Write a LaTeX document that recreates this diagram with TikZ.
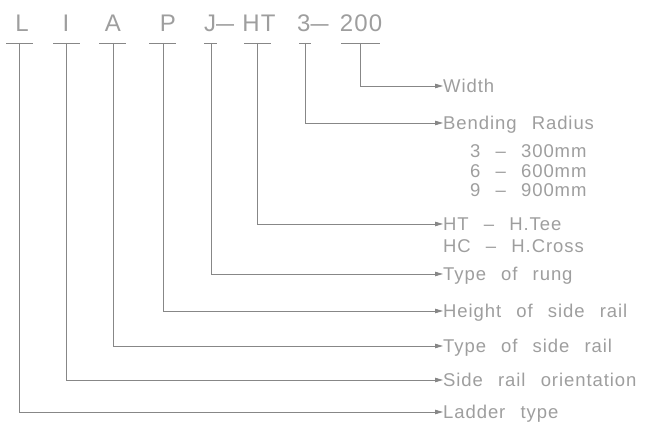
\documentclass[tikz,border=0pt]{standalone}
\usepackage{fontspec}
\usetikzlibrary{arrows.meta,positioning}
\newfontfamily\cadfont[LetterSpace=5,WordSpace=2.5]{Liberation Sans}
\definecolor{CadText}{RGB}{158,158,158}
\definecolor{CadLine}{RGB}{135,135,135}
\newcommand{\longdash}{\scalebox{1.35}[1]{–}}

\begin{document}
\begin{tikzpicture}[
  x=1pt, y=-1pt,
  code/.style={
    inner sep=0pt, anchor=base, text=CadText, font=\cadfont\fontsize{24}{24}\selectfont
  },
  desc/.style={
    inner sep=0pt, anchor=west, text=CadText, text height=13.2pt, text depth=0pt,
    font=\cadfont\fontsize{18.5}{18.5}\selectfont
  },
  bar/.style={draw=CadLine, line width=0.8pt},
  lead/.style={draw=CadLine, line width=0.8pt, -{Triangle[length=8pt,width=4.5pt]}}
]
\useasboundingbox (0,0) rectangle (649,427);

% --- code letters (top row)
\node[code] (cL)   at (22,32)  {L};
\node[code] (cI)   at (66,32)  {I};
\node[code] (cA)   at (113,32) {A};
\node[code] (cP)   at (168,32) {P};
\node[code, anchor=base west] (cJ)  at (204,32) {J\longdash};
\node[code] (cHT)  at (259,32) {HT};
\node[code, anchor=base west] (cR)  at (297,32) {3\longdash};
\node[code] (cW)   at (361,32) {200};

% --- bars under the codes
\coordinate (kL)  at (19,43);
\coordinate (kI)  at (66,43);
\coordinate (kA)  at (113,43);
\coordinate (kP)  at (163,43);
\coordinate (kJ)  at (211,43);
\coordinate (kHT) at (257,43);
\coordinate (kR)  at (305,43);
\coordinate (kW)  at (360,43);
\draw[bar] (6,43)   -- (33,43);
\draw[bar] (53,43)  -- (80,43);
\draw[bar] (99,43)  -- (126,43);
\draw[bar] (149,43) -- (176,43);
\draw[bar] (204,43) -- (217,43);
\draw[bar] (244,43) -- (271,43);
\draw[bar] (299,43) -- (311,43);
\draw[bar] (341,43) -- (380,43);

% --- descriptions (right column)
\node[desc] (dW)   at (443,86)  {Width};
\node[desc] (dR)   at (443,123) {Bending Radius};
\node[desc] (dR3)  at (470,151) {3 – 300mm};
\node[desc] (dR6)  at (470,171) {6 – 600mm};
\node[desc] (dR9)  at (470,190) {9 – 900mm};
\node[desc] (dHT)  at (443,224) {HT – H.Tee};
\node[desc] (dHC)  at (443,246) {HC – H.Cross};
\node[desc] (dJ)   at (443,274) {Type of rung};
\node[desc] (dP)   at (443,311) {Height of side rail};
\node[desc] (dA)   at (443,346) {Type of side rail};
\node[desc] (dI)   at (443,380) {Side rail orientation};
\node[desc] (dL)   at (443,412) {Ladder type};

% --- leaders: code -> description
\draw[lead] (kW)  |- (dW.west);
\draw[lead] (kR)  |- (dR.west);
\draw[lead] (kHT) |- (dHT.west);
\draw[lead] (kJ)  |- (dJ.west);
\draw[lead] (kP)  |- (dP.west);
\draw[lead] (kA)  |- (dA.west);
\draw[lead] (kI)  |- (dI.west);
\draw[lead] (kL)  |- (dL.west);

\end{tikzpicture}
\end{document}
